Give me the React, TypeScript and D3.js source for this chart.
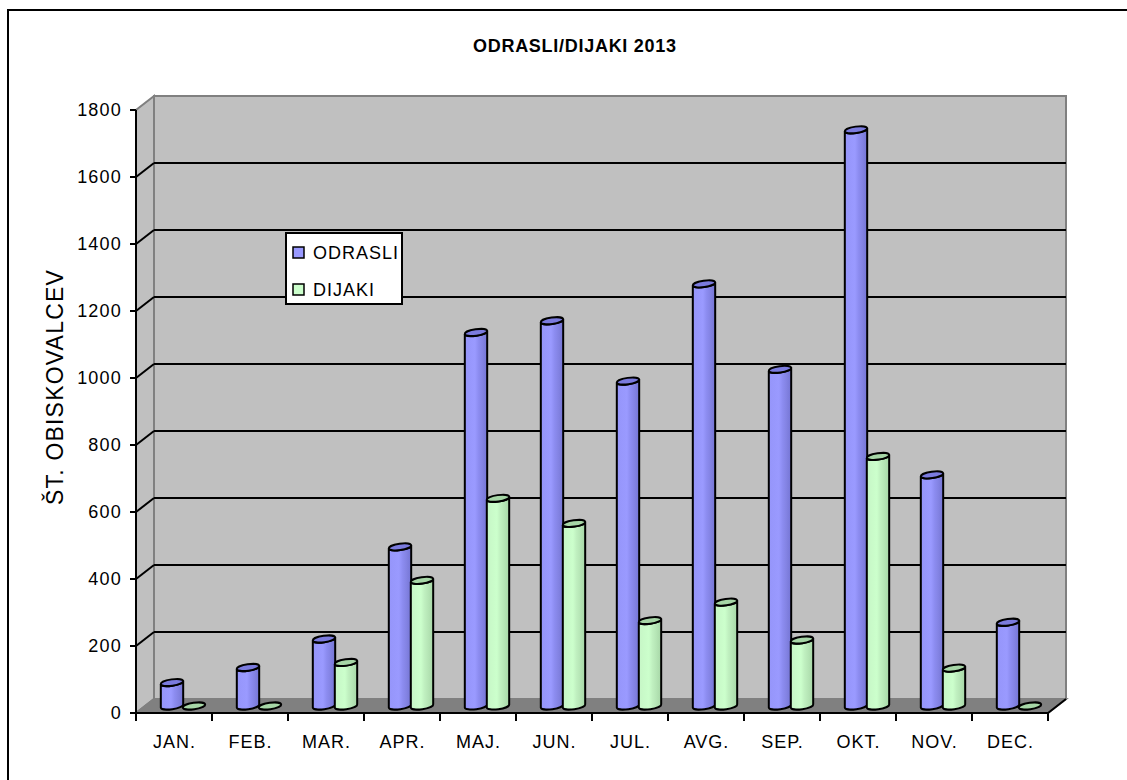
import * as d3 from "d3";

const months = ["JAN.", "FEB.", "MAR.", "APR.", "MAJ.", "JUN.", "JUL.", "AVG.", "SEP.", "OKT.", "NOV.", "DEC."];
const odrasli = [70, 115, 200, 475, 1115, 1150, 970, 1260, 1005, 1720, 690, 250];
const dijaki = [0, 0, 130, 375, 620, 545, 255, 310, 197, 745, 113, 0];
const yTicks = [0, 200, 400, 600, 800, 1000, 1200, 1400, 1600, 1800];
const seriesNames = ["ODRASLI", "DIJAKI"];

const W = 1127;
const H = 780;
const font = "'Liberation Sans', Arial, sans-serif";
const dx = 18;
const dy = -14;
const barW = 22;
const rx = 11.3;
const ry = 3.2;
const rot = -8;

const x = d3.scaleBand().domain(months).range([136, 1048]);
const y = d3.scaleLinear().domain([0, 1800]).range([713, 110]);

const series = [
  { name: seriesNames[0], values: odrasli, offset: 25, grad: "gBlue", cap: "#7b7bde", key: "#9999ff" },
  { name: seriesNames[1], values: dijaki, offset: 47, grad: "gGreen", cap: "#a6d6a6", key: "#ccffcc" },
];

function cylinder(cx: number, top: number, base: number) {
  const t = (rot * Math.PI) / 180;
  const a = rx * Math.cos(t);
  const b = rx * Math.sin(t);
  return `M${cx - a},${top - b} L${cx - a},${base - b} A${rx},${ry} ${rot} 0 0 ${cx + a},${base + b} L${cx + a},${top + b} A${rx},${ry} ${rot} 0 1 ${cx - a},${top - b} Z`;
}

function App() {
  const x0 = 136;
  const x1 = 1048;
  const y0 = y(0);
  const yTop = y(1800);
  return (
    <svg width={W} height={H} style={{ position: "absolute", left: 0, top: 0, background: "#fff" }}>
      <defs>
        <linearGradient id="gBlue" x1="0" x2="1" y1="0" y2="0">
          <stop offset="0" stopColor="#9595fa" />
          <stop offset="0.45" stopColor="#9a9aff" />
          <stop offset="0.62" stopColor="#8c8cf0" />
          <stop offset="0.8" stopColor="#8282e2" />
          <stop offset="1" stopColor="#7474d4" />
        </linearGradient>
        <linearGradient id="gGreen" x1="0" x2="1" y1="0" y2="0">
          <stop offset="0" stopColor="#c6f6c6" />
          <stop offset="0.45" stopColor="#ccffcc" />
          <stop offset="0.62" stopColor="#bfefbf" />
          <stop offset="0.8" stopColor="#b4e4b4" />
          <stop offset="1" stopColor="#a6d6a6" />
        </linearGradient>
      </defs>
      <rect x={8} y={10} width={1140} height={800} fill="#fff" stroke="#000" strokeWidth={2} />
      <text x={473} y={52} textLength={203} lengthAdjust="spacing" fontFamily={font} fontWeight="bold" fontSize={18}>
        ODRASLI/DIJAKI 2013
      </text>

      {/* walls */}
      <rect x={x0 + dx} y={yTop + dy} width={x1 - x0} height={y0 - yTop} fill="#c0c0c0" stroke="#808080" strokeWidth={2} />
      <path
        d={`M${x0},${y0} L${x0},${yTop} L${x0 + dx},${yTop + dy} L${x0 + dx},${y0 + dy} Z`}
        fill="#c0c0c0"
        stroke="#808080"
        strokeWidth={2}
      />
      <path
        d={`M${x0},${y0} L${x1},${y0} L${x1 + dx},${y0 + dy} L${x0 + dx},${y0 + dy} Z`}
        fill="#808080"
        stroke="#808080"
        strokeWidth={2}
      />

      {/* gridlines */}
      {yTicks
        .filter((t) => t > 0 && t < 1800)
        .map((t) => (
          <g key={t} stroke="#000" strokeWidth={2}>
            <line x1={x0 + dx} x2={x1 + dx} y1={y(t) + dy} y2={y(t) + dy} />
            <line x1={x0} x2={x0 + dx} y1={y(t)} y2={y(t) + dy} />
          </g>
        ))}

      {/* bars */}
      {months.map((m, i) => (
        <g key={m}>
          {series.map((s) => {
            const cx = (x(m) as number) + s.offset + barW / 2;
            const base = y0 + dy / 2;
            const top = y(s.values[i]) + dy / 2;
            return (
              <g key={s.name} stroke="#000" strokeWidth={2}>
                {s.values[i] > 0 && <path d={cylinder(cx, top, base)} fill={`url(#${s.grad})`} />}
                <ellipse cx={cx} cy={top} rx={rx} ry={ry} transform={`rotate(${rot},${cx},${top})`} fill={s.cap} />
              </g>
            );
          })}
        </g>
      ))}

      {/* axes */}
      <g stroke="#000" strokeWidth={2}>
        <line x1={x0} x2={x0} y1={yTop} y2={y0} />
        <line x1={x0} x2={x1} y1={y0} y2={y0} />
        <line x1={x1} x2={x1 + dx} y1={y0} y2={y0 + dy} />
        {yTicks.map((t) => (
          <line key={t} x1={x0 - 6} x2={x0} y1={y(t)} y2={y(t)} />
        ))}
        {months.concat(["end"]).map((m, i) => (
          <line key={m} x1={x0 + i * x.bandwidth()} x2={x0 + i * x.bandwidth()} y1={y0} y2={y0 + 8} />
        ))}
      </g>
      {yTicks.map((t) => (
        <text key={t} x={122} y={y(t)} dy="0.36em" textAnchor="end" letterSpacing={1.2} fontFamily={font} fontSize={18}>
          {t}
        </text>
      ))}
      {months.map((m) => (
        <text
          key={m}
          x={(x(m) as number) + x.bandwidth() / 2 + 0.5}
          y={748}
          textAnchor="middle"
          letterSpacing={1}
          fontFamily={font}
          fontSize={18}
        >
          {m}
        </text>
      ))}
      <text
        transform="translate(63,387) rotate(-90)"
        textAnchor="middle"
        letterSpacing={1.2}
        fontFamily={font}
        fontSize={23}
      >
        ŠT. OBISKOVALCEV
      </text>

      {/* legend */}
      <rect x={286} y={233} width={116} height={71} fill="#fff" stroke="#000" strokeWidth={2} />
      {series.map((s, i) => (
        <g key={s.name}>
          <rect x={293} y={247 + i * 37} width={11} height={11} fill={s.key} stroke="#000" strokeWidth={1.5} />
          <text x={313} y={259 + i * 37} letterSpacing={1} fontFamily={font} fontSize={18}>
            {s.name}
          </text>
        </g>
      ))}
    </svg>
  );
}

export default App;
